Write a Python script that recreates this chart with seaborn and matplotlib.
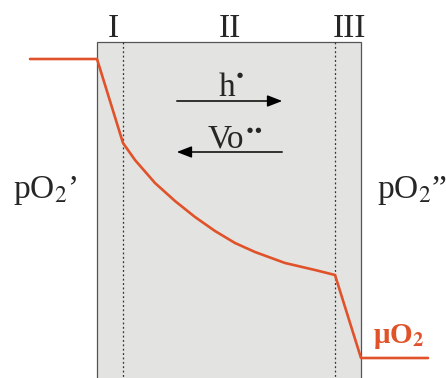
import numpy as np
import pandas as pd
import matplotlib
matplotlib.use('Agg')
from matplotlib import pyplot as plt
from matplotlib.patches import Rectangle
import seaborn as sns

sns.set_style('white')
plt.rcParams['font.family'] = ['Liberation Serif', 'DejaVu Serif']
plt.rcParams['mathtext.fontset'] = 'stix'

# oxygen chemical potential profile across the membrane (picture units)
profile_x = [30, 97, 123, 135, 155, 175, 195, 215, 235, 255, 285, 315, 335, 361, 428]
profile_y = [59, 59, 143, 160, 183, 201, 217, 231, 243, 252, 263, 270, 275, 358, 358]

# region boundaries and labels
membrane_edges = [97, 361]
sublayer_lines = [123, 335]
region_labels = ['I', 'II', 'III']
region_label_x = [113, 230, 349]

red = '#e0522a'

fig = plt.figure(figsize=(4.46, 3.78), dpi=100)
ax = fig.add_axes([0, 0, 1, 1])

# membrane body
ax.add_patch(Rectangle((membrane_edges[0], 42), membrane_edges[1] - membrane_edges[0], 340,
                       facecolor='#e3e3e1', edgecolor='#555555', lw=0.9, zorder=0))
for xv in sublayer_lines:
    ax.plot([xv, xv], [42, 378], ls=(0, (1.5, 2)), color='#333333', lw=0.9, zorder=1)

df = pd.DataFrame({'x': profile_x, 'y': profile_y})
sns.lineplot(data=df, x='x', y='y', sort=False, color=red, lw=1.9, ax=ax, zorder=3)
ax.set_xlim(0, 446)
ax.set_ylim(378, 0)
ax.axis('off')

for lab, xv in zip(region_labels, region_label_x):
    ax.text(xv, 37, lab, ha='center', va='baseline', fontsize=24)

# carrier fluxes
ax.annotate('', xy=(285, 101), xytext=(174, 101),
            arrowprops=dict(arrowstyle='-|>,head_length=0.9,head_width=0.35', color='black', lw=1.1))
ax.annotate('', xy=(174, 152), xytext=(285, 152),
            arrowprops=dict(arrowstyle='-|>,head_length=0.9,head_width=0.35', color='black', lw=1.1))
ax.text(227, 96, 'h', ha='center', va='baseline', fontsize=24)
ax.text(240, 75, '●', ha='center', va='center', fontsize=5, family='DejaVu Sans')
ax.text(226, 147, 'Vo', ha='center', va='baseline', fontsize=24)
ax.text(254, 130, '● ●', ha='center', va='center', fontsize=5, family='DejaVu Sans')

ax.text(45, 198, 'pO$_2$’', ha='center', va='baseline', fontsize=24)
ax.text(412, 198, 'pO$_2$”', ha='center', va='baseline', fontsize=24)
ax.text(399, 343, 'μO$_\\mathbf{2}$', ha='center', va='baseline', fontsize=21,
        fontweight='bold', color=red)

fig.savefig('out.png', dpi=100)
